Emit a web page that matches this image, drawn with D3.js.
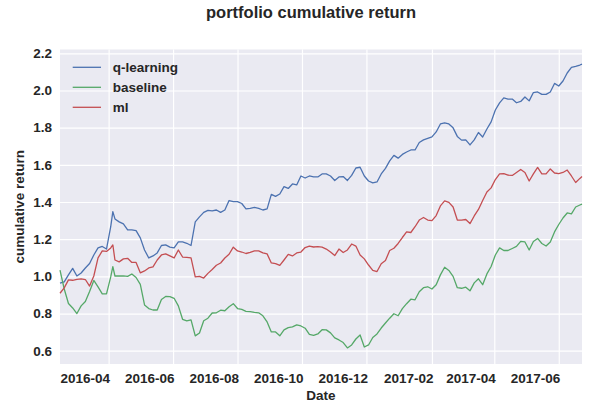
<!DOCTYPE html>
<html lang="en">
<head>
    <meta charset="UTF-8">
    <script src="https://d3js.org/d3.v7.min.js"></script>
    <title>portfolio cumulative return</title>
    <style>
        body { margin: 0; background: #fff; }
        text { font-family: "Liberation Sans", Arial, sans-serif; font-weight: bold; fill: #262626; }
    </style>
</head>
<body>
    <div id="chart"></div>

    <script>
        // values, one sample every ~4 days
        let dates = ["2016-02-15","2016-02-19","2016-02-23","2016-02-27","2016-03-02","2016-03-06","2016-03-10","2016-03-14","2016-03-18","2016-03-22","2016-03-26","2016-03-30","2016-04-03","2016-04-05","2016-04-07","2016-04-11","2016-04-15","2016-04-19","2016-04-23","2016-04-27","2016-05-01","2016-05-05","2016-05-09","2016-05-13","2016-05-17","2016-05-21","2016-05-25","2016-05-29","2016-06-02","2016-06-06","2016-06-10","2016-06-14","2016-06-18","2016-06-22","2016-06-26","2016-06-30","2016-07-04","2016-07-08","2016-07-12","2016-07-16","2016-07-20","2016-07-24","2016-07-28","2016-08-01","2016-08-05","2016-08-09","2016-08-13","2016-08-17","2016-08-21","2016-08-25","2016-08-29","2016-09-02","2016-09-06","2016-09-10","2016-09-14","2016-09-18","2016-09-22","2016-09-26","2016-09-30","2016-10-04","2016-10-08","2016-10-12","2016-10-16","2016-10-20","2016-10-24","2016-10-28","2016-11-01","2016-11-05","2016-11-09","2016-11-13","2016-11-17","2016-11-21","2016-11-25","2016-11-29","2016-12-03","2016-12-07","2016-12-11","2016-12-15","2016-12-19","2016-12-23","2016-12-27","2016-12-31","2017-01-04","2017-01-08","2017-01-12","2017-01-16","2017-01-20","2017-01-24","2017-01-28","2017-02-01","2017-02-05","2017-02-09","2017-02-13","2017-02-17","2017-02-21","2017-02-25","2017-03-01","2017-03-05","2017-03-09","2017-03-13","2017-03-17","2017-03-21","2017-03-25","2017-03-29","2017-04-02","2017-04-06","2017-04-10","2017-04-14","2017-04-18","2017-04-22","2017-04-26","2017-04-30","2017-05-04","2017-05-08","2017-05-12","2017-05-16","2017-05-20","2017-05-24","2017-05-28","2017-06-01","2017-06-05","2017-06-09","2017-06-13","2017-06-17","2017-06-21","2017-06-23"];

        let qlearning = [0.963,0.970,1.008,1.043,1.002,1.018,1.045,1.069,1.115,1.153,1.161,1.147,1.267,1.348,
            1.309,1.293,1.282,1.250,1.250,1.246,1.207,1.142,1.099,1.110,
            1.126,1.166,1.169,1.157,1.153,1.185,1.185,1.178,1.166,1.293,
            1.320,1.344,1.355,1.352,1.357,1.344,1.357,1.408,1.402,1.402,
            1.392,1.363,1.366,1.371,1.366,1.357,1.363,1.441,1.430,1.443,
            1.483,1.473,1.497,1.492,1.540,1.529,1.540,1.535,1.535,1.551,
            1.551,1.540,1.516,1.535,1.537,1.516,1.543,1.583,1.587,1.540,
            1.513,1.503,1.508,1.551,1.581,1.621,1.651,1.636,1.656,1.669,
            1.680,1.680,1.720,1.734,1.742,1.750,1.777,1.820,1.826,1.820,
            1.799,1.753,1.733,1.734,1.707,1.734,1.774,1.750,1.793,1.831,
            1.895,1.933,1.960,1.954,1.954,1.934,1.941,1.965,1.944,1.989,
            1.992,1.979,1.979,1.992,2.038,2.024,2.051,2.094,2.124,2.130,
            2.137,2.142];

        let baseline = [1.034,0.932,0.854,0.830,0.800,0.841,0.865,0.919,0.978,0.943,0.906,0.906,0.997,1.052,
            1.002,1.002,1.003,1.000,1.013,0.994,0.957,0.846,0.827,0.819,
            0.819,0.876,0.892,0.891,0.882,0.841,0.769,0.761,0.766,0.680,
            0.695,0.761,0.775,0.803,0.804,0.818,0.815,0.837,0.853,0.827,
            0.822,0.812,0.810,0.806,0.804,0.788,0.755,0.701,0.701,0.680,
            0.712,0.724,0.728,0.739,0.733,0.721,0.688,0.682,0.690,0.713,
            0.712,0.696,0.669,0.658,0.644,0.615,0.631,0.663,0.685,0.620,
            0.631,0.671,0.690,0.722,0.749,0.775,0.799,0.788,0.826,0.853,
            0.877,0.874,0.917,0.939,0.944,0.932,0.955,1.008,1.049,1.032,
            1.000,0.939,0.936,0.942,0.922,0.965,0.987,0.955,1.013,1.053,
            1.115,1.153,1.139,1.139,1.150,1.161,1.188,1.185,1.142,1.188,
            1.204,1.177,1.163,1.185,1.239,1.279,1.314,1.341,1.336,1.373,
            1.384,1.389];

        let ml = [0.909,0.938,0.981,0.979,0.984,0.986,0.983,0.948,1.002,1.099,1.137,1.134,1.153,1.169,
            1.088,1.078,1.094,1.097,1.075,1.075,1.019,1.029,1.045,1.051,
            1.088,1.115,1.121,1.110,1.099,1.142,1.104,1.102,1.099,0.997,
            1.000,0.991,1.016,1.037,1.060,1.072,1.099,1.119,1.157,1.137,
            1.131,1.123,1.129,1.137,1.137,1.126,1.121,1.072,1.069,1.059,
            1.088,1.118,1.110,1.126,1.131,1.155,1.163,1.158,1.160,1.157,
            1.147,1.131,1.112,1.147,1.128,1.142,1.174,1.163,1.115,1.094,
            1.061,1.032,1.026,1.068,1.085,1.139,1.151,1.177,1.209,1.239,
            1.236,1.267,1.303,1.317,1.303,1.300,1.327,1.379,1.406,1.398,
            1.373,1.303,1.303,1.306,1.284,1.325,1.360,1.408,1.454,1.476,
            1.521,1.551,1.553,1.545,1.543,1.559,1.575,1.559,1.513,1.551,
            1.586,1.551,1.551,1.578,1.556,1.553,1.559,1.572,1.540,1.505,
            1.527,1.537];

        let seriesNames = ["q-learning", "baseline", "ml"];
        let seriesColors = ["#4c72b0", "#55a868", "#c44e52"];
        let yTicks = [0.6, 0.8, 1.0, 1.2, 1.4, 1.6, 1.8, 2.0, 2.2];
        let xTickLabels = ["2016-04", "2016-06", "2016-08", "2016-10", "2016-12", "2017-02", "2017-04", "2017-06"];

        let win_width = 595, win_height = 403;
        let margin = {top: 49.5, right: 13, bottom: 39, left: 60};
        let graph_width = win_width - margin.left - margin.right;
        let graph_height = win_height - margin.top - margin.bottom;

        let parseDay = d3.timeParse("%Y-%m-%d");
        let parseMonth = d3.timeParse("%Y-%m");
        let days = dates.map(parseDay);

        let svg = d3.select("#chart")
            .append("svg")
            .attr("width", win_width)
            .attr("height", win_height);

        svg.append("text")
            .attr("x", 311)
            .attr("y", 17.5)
            .attr("text-anchor", "middle")
            .style("font-size", "16.5px")
            .text("portfolio cumulative return");

        let g = svg.append("g")
            .attr("transform", "translate(" + margin.left + "," + margin.top + ")");

        g.append("rect")
            .attr("width", graph_width)
            .attr("height", graph_height)
            .attr("fill", "#eaeaf2");

        let x = d3.scaleTime()
            .domain([days[0], days[days.length - 1]])
            .range([0, graph_width]);

        let y = d3.scaleLinear()
            .domain([0.5285, 2.2205])
            .range([graph_height, 0]);

        // X axis + vertical grid
        let xAxis = g.append("g")
            .attr("transform", "translate(0," + graph_height + ")")
            .call(d3.axisBottom(x)
                .tickValues(xTickLabels.map(parseMonth))
                .tickFormat(d3.timeFormat("%Y-%m"))
                .tickSize(-graph_height));
        xAxis.select(".domain").remove();
        xAxis.selectAll("line").attr("stroke", "#fff").attr("stroke-width", 1.2);
        xAxis.selectAll("text")
            .attr("text-anchor", "end")
            .attr("x", 1)
            .attr("y", 18.7)
            .attr("dy", 0)
            .style("font-size", "13.5px");

        // Y axis + horizontal grid
        let yAxis = g.append("g")
            .call(d3.axisLeft(y)
                .tickValues(yTicks)
                .tickFormat(d3.format(".1f"))
                .tickSize(-graph_width)
                .tickPadding(8));
        yAxis.select(".domain").remove();
        yAxis.selectAll("line").attr("stroke", "#fff").attr("stroke-width", 1.2);
        yAxis.selectAll("text").style("font-size", "13.5px");

        // lines
        let allSeries = [qlearning, baseline, ml];
        let line = d3.line()
            .x(function(d, i) { return x(days[i]); })
            .y(function(d) { return y(d); });

        g.selectAll("path.series")
            .data(allSeries)
            .enter()
            .append("path")
            .attr("class", "series")
            .attr("fill", "none")
            .attr("stroke", function(d, i) { return seriesColors[i]; })
            .attr("stroke-width", 1.3)
            .attr("stroke-linejoin", "round")
            .attr("d", line);

        // axis titles
        svg.append("text")
            .attr("x", margin.left + graph_width / 2)
            .attr("y", 400)
            .attr("text-anchor", "middle")
            .style("font-size", "13.5px")
            .text("Date");

        svg.append("text")
            .attr("transform", "translate(24," + (margin.top + graph_height / 2) + ") rotate(-90)")
            .attr("text-anchor", "middle")
            .style("font-size", "13.5px")
            .text("cumulative return");

        // legend
        let legend = svg.append("g");
        seriesNames.forEach(function(name, i) {
            let ly = 67.3 + i * 20;
            legend.append("line")
                .attr("x1", 72.7).attr("x2", 101)
                .attr("y1", ly).attr("y2", ly)
                .attr("stroke", seriesColors[i])
                .attr("stroke-width", 1.3);
            legend.append("text")
                .attr("x", 112.7)
                .attr("y", ly)
                .attr("dy", "0.35em")
                .style("font-size", "13.5px")
                .text(name);
        });
    </script>
</body>
</html>
